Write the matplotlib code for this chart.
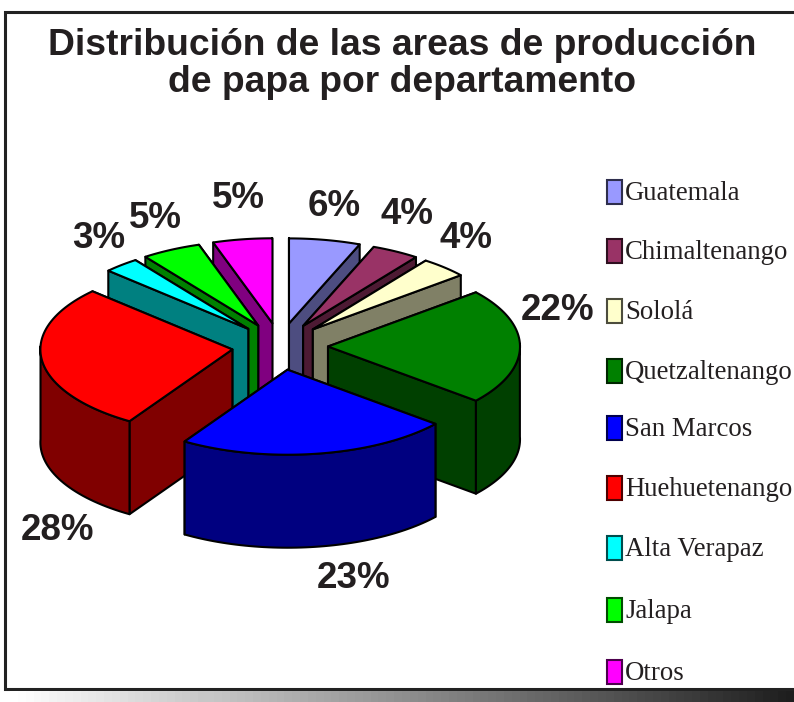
import numpy as np
import matplotlib
matplotlib.use('Agg')
import matplotlib.pyplot as plt
from matplotlib.patches import Polygon, Rectangle

# Data
departments = ['Guatemala', 'Chimaltenango', 'Sololá', 'Quetzaltenango', 'San Marcos',
               'Huehuetenango', 'Alta Verapaz', 'Jalapa', 'Otros']
shares = [6, 4, 4, 22, 23, 28, 3, 5, 5]
colors = ['#9999FF', '#993366', '#FFFFCC', '#008000', '#0000FF',
          '#FF0000', '#00FFFF', '#00FF00', '#FF00FF']
title = 'Distribución de las areas de producción\nde papa por departamento'

# Pie look, in pixels
cx, cy = 280, 346.5
rx, ry = 192, 85
ex, ey = 48, 23.5
depth = 93
label_pos = [(334, 206), (407, 214), (466, 238), (558, 311), (354, 579),
             (58, 531), (99, 239), (155, 219), (238, 199)]
legend_y = [192, 251, 311, 371, 428, 488, 548, 610, 672]

fig = plt.figure(figsize=(7.94, 7.02), dpi=100)
ax = fig.add_axes([0, 0, 1, 1])
ax.set_xlim(0, 794)
ax.set_ylim(702, 0)
ax.axis('off')

# Frame and shaded strip under it
ax.add_patch(Rectangle((5, 12), 800, 677, fc='white', ec='#222222', lw=2.2, zorder=1))
ramp = np.concatenate([np.linspace(1, 0.78, 25), np.linspace(0.78, 0.12, 75)])
ax.imshow(ramp[None, :], extent=(10, 794, 702, 691), cmap='gray', vmin=0, vmax=1,
          aspect='auto', zorder=1)
ax.set_xlim(0, 794)
ax.set_ylim(702, 0)

# Wedges, back to front
edges = np.cumsum([0] + shares) / sum(shares) * 2 * np.pi
mids = (edges[:-1] + edges[1:]) / 2
order = np.argsort(-np.cos(mids))


def poly(pts, color, z):
    ax.add_patch(Polygon(pts, closed=True, fc=color, ec='black', lw=1.5, joinstyle='round', zorder=z))


z = 2
for i in order:
    ax_x = cx + ex * np.sin(mids[i])
    ax_y = cy - ey * np.cos(mids[i])
    t = np.linspace(edges[i], edges[i + 1], 60)
    arc_x = ax_x + rx * np.sin(t)
    arc_y = ax_y - ry * np.cos(t)
    dark = tuple(0.5 * c for c in matplotlib.colors.to_rgb(colors[i]))

    # radial walls, the one further back first
    ends = (0, -1) if arc_y[0] < arc_y[-1] else (-1, 0)
    for k in ends:
        poly([(ax_x, ax_y), (arc_x[k], arc_y[k]), (arc_x[k], arc_y[k] + depth), (ax_x, ax_y + depth)], dark, z)
    # outer wall, front part only
    front = np.cos(t) <= 0.05
    if front.sum() > 1:
        fx, fy = arc_x[front], arc_y[front]
        poly(np.r_[np.c_[fx, fy], np.c_[fx, fy + depth][::-1]], dark, z)
    # top
    poly(np.r_[[(ax_x, ax_y)], np.c_[arc_x, arc_y]], colors[i], z)
    z += 1

# Percent labels
for s, (x, y) in zip(shares, label_pos):
    ax.text(x, y, f'{s}%', ha='center', va='center', fontsize=26.5, fontweight='bold',
            family='Liberation Sans', color='#231f20', zorder=30)

ax.text(402, 64, title, ha='center', va='center', fontsize=26.8, fontweight='bold',
        family='Liberation Sans', color='#231f20', linespacing=1.05, zorder=30)

# Legend
for name, c, y in zip(departments, colors, legend_y):
    dark = tuple(0.3 * v for v in matplotlib.colors.to_rgb(c))
    ax.add_patch(Rectangle((607, y - 12), 15, 24, fc=c, ec=dark, lw=1.5, zorder=30))
    ax.text(625, y + 1.5, name, ha='left', va='center', fontsize=19.3, family='Liberation Serif',
            color='#231f20', zorder=30)

fig.savefig('out.png', dpi=100)
